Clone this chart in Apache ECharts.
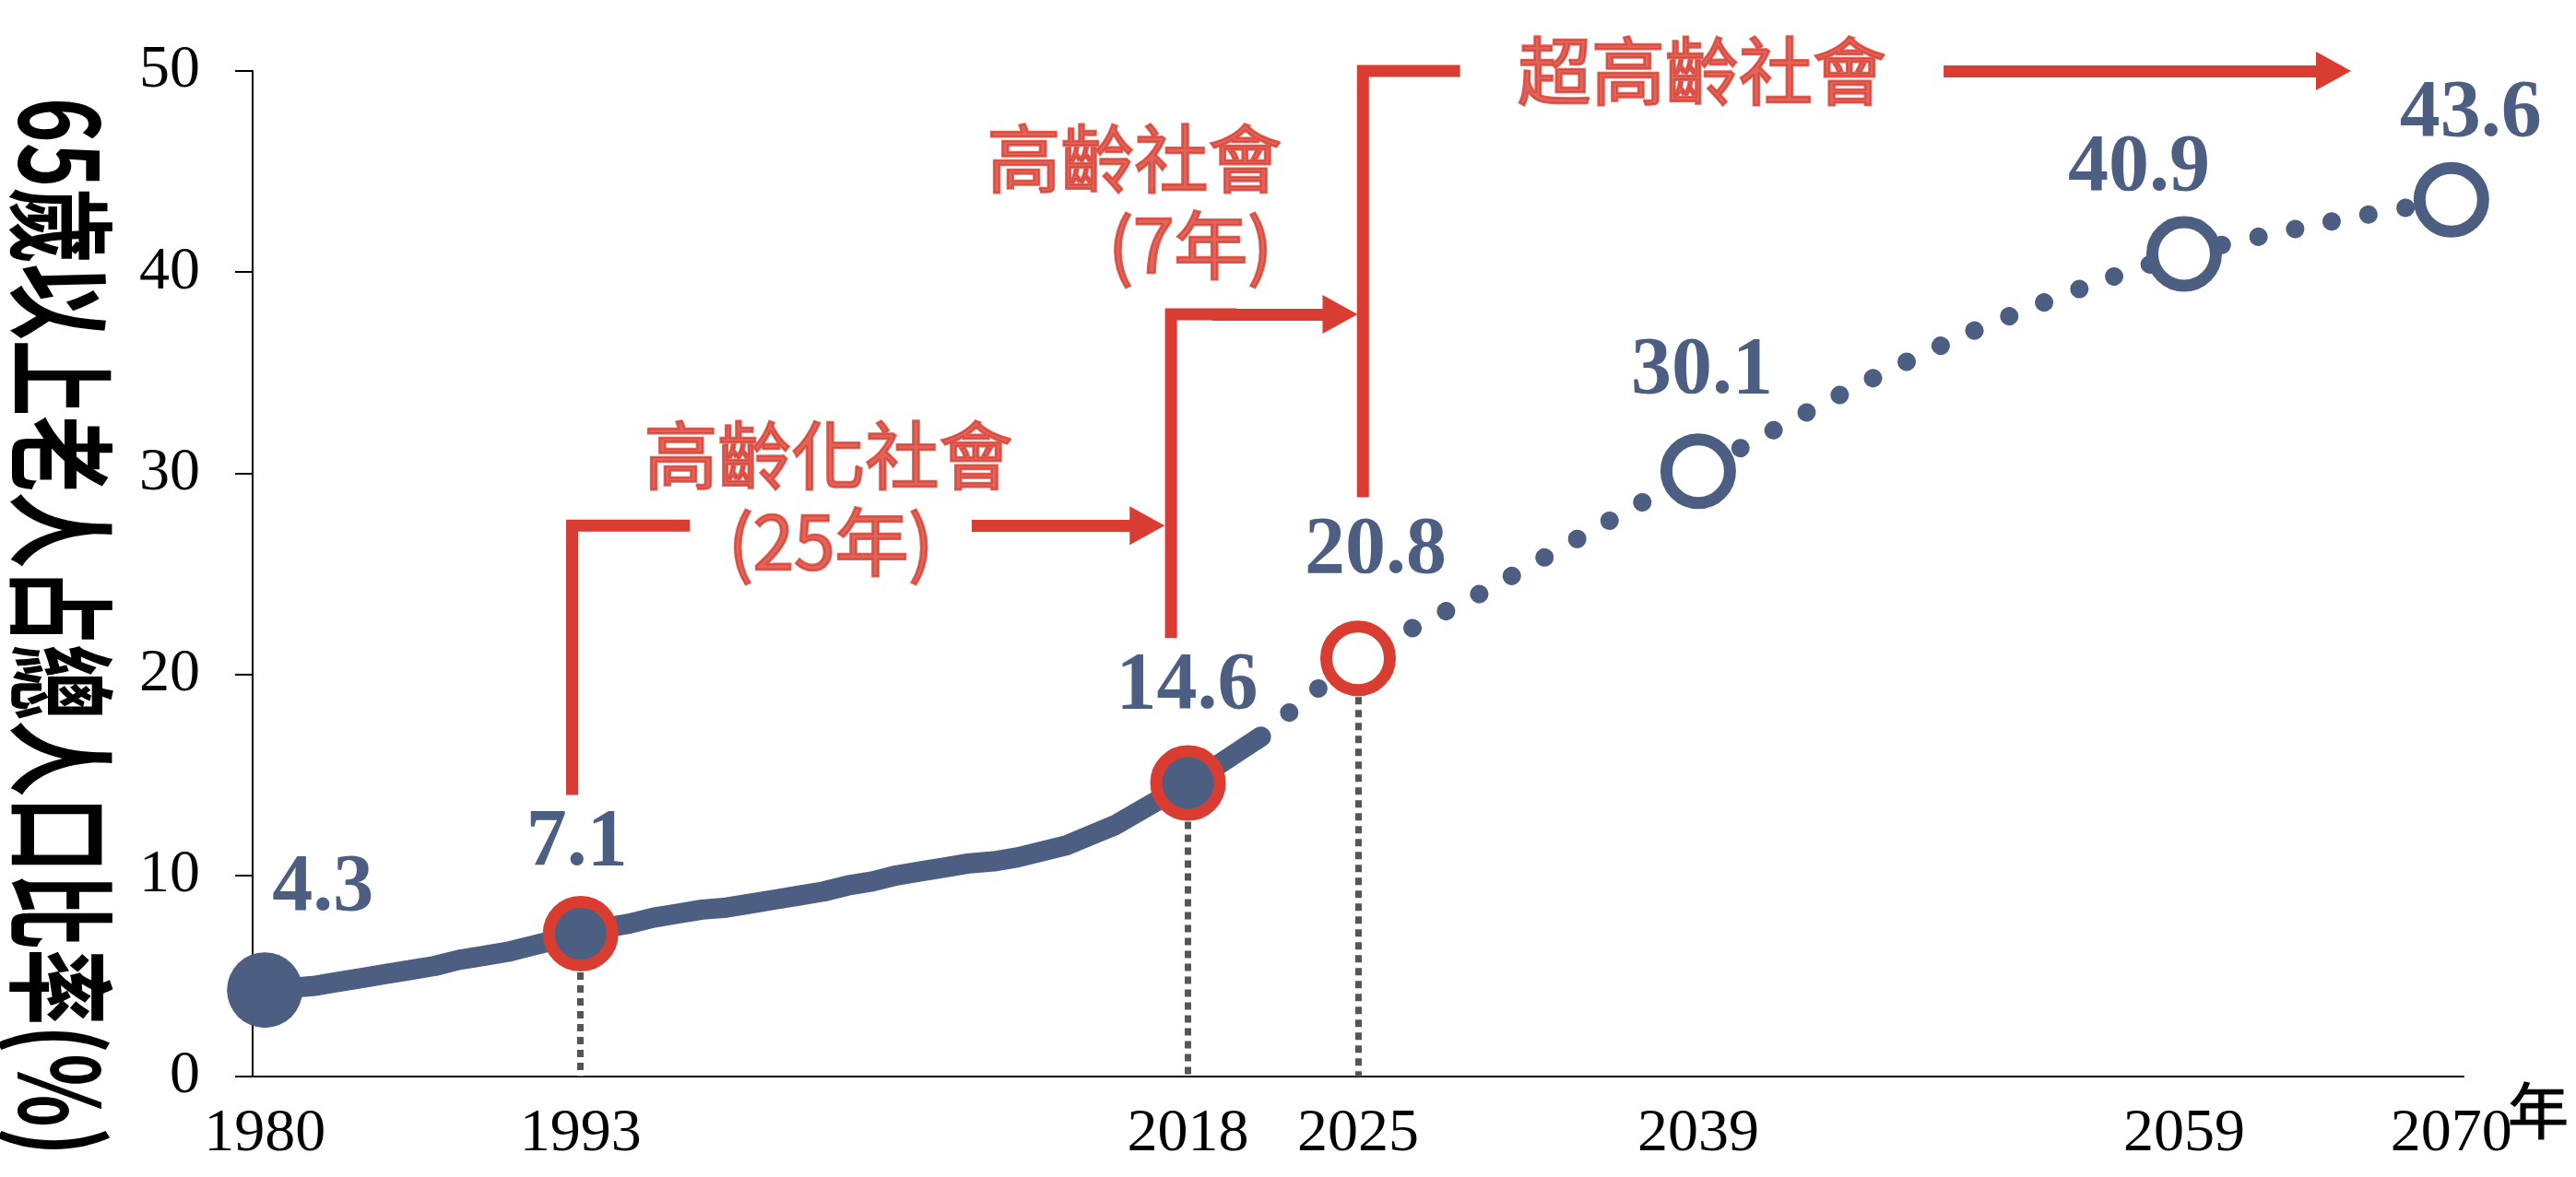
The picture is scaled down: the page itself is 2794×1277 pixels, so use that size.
<!DOCTYPE html>
<html><head><meta charset="utf-8">
<script src="https://cdn.jsdelivr.net/npm/echarts@6/dist/echarts.min.js"></script>
<style>html,body{margin:0;padding:0;background:#fff}#c{width:2794px;height:1277px}</style>
</head><body><div id="c"></div>
<script>
// ---------------- data ----------------
const yearsActual = [1980,1981,1982,1983,1984,1985,1986,1987,1988,1989,1990,1991,1992,1993,1994,1995,1996,1997,1998,1999,2000,2001,2002,2003,2004,2005,2006,2007,2008,2009,2010,2011,2012,2013,2014,2015,2016,2017,2018,2019,2020,2021];
const valuesActual = [4.3,4.4,4.5,4.7,4.9,5.1,5.3,5.5,5.8,6.0,6.2,6.5,6.8,7.1,7.4,7.6,7.9,8.1,8.3,8.4,8.6,8.8,9.0,9.2,9.5,9.7,10.0,10.2,10.4,10.6,10.7,10.9,11.2,11.5,12.0,12.5,13.2,13.9,14.6,15.3,16.1,16.9];
const yearsProjected = [2021,2025,2030,2035,2039,2045,2050,2055,2059,2065,2070];
const valuesProjected = [16.9,20.8,24.0,27.4,30.1,34.0,36.9,39.3,40.9,42.5,43.6];
const keyYears = [1980,1993,2018,2025,2039,2059,2070];
const keyValues = [4.3,7.1,14.6,20.8,30.1,40.9,43.6];
const xTickYears = [1980,1993,2018,2025,2039,2059,2070];
const dropYears = [1993,2018,2025];
const dropValues = [7.1,14.6,20.8];
const yAxisTitle = '65歲以上老人占總人口比率(%)';
const xAxisTitle = '年';
// stage annotations (data units: year, %)
const stageTexts = ['高齡化社會','(25年)','高齡社會','(7年)','超高齡社會'];
const stageTextYears = [2003.2,2003.3,2015.8,2018.1,2039.15];
const stageTextValues = [30.93,26.58,45.68,41.37,50.04];
const bracketX = [1992.65,2017.3,2025.2];
const bracketBottom = [14.0,21.8,28.8];
const bracketLevel = [27.4,37.9,50.0];
const bracketLineEnd = [1997.5,2020.0,2029.2];
const arrowStart = [2009.1,2019.0,2049.1];
const arrowEnd = [2016.32,2024.26,2065.15];

// ---------------- styles ----------------
const BLUE = '#4c5e82', RED = '#d93d31', GRAY = '#555555';
const markerStyles = [
  {size:82, fill:BLUE, border:null},
  {size:69, fill:BLUE, border:RED},
  {size:69, fill:BLUE, border:RED},
  {size:69, fill:'#fff', border:RED},
  {size:69, fill:'#fff', border:BLUE},
  {size:69, fill:'#fff', border:BLUE},
  {size:69, fill:'#fff', border:BLUE}
];
const labelOffsets = [[63,-110],[-4,-98],[-1,-104],[19,-116],[4,-108],[-49,-92],[21,-92]];

const chart = echarts.init(document.getElementById('c'), null, {renderer:'canvas'});

const series = [];
series.push({
  type:'line', z:3, clip:false, showSymbol:false, symbol:'none', silent:true,
  data: yearsActual.map((y,i)=>[y, valuesActual[i]]),
  lineStyle:{color:BLUE, width:22, cap:'round', join:'round'}
});
series.push({
  type:'line', z:3, clip:false, showSymbol:false, symbol:'none', silent:true, smooth:0.25,
  data: yearsProjected.map((y,i)=>[y, valuesProjected[i]]),
  lineStyle:{color:BLUE, width:20, cap:'round', type:[0.1,40.5]}
});
series.push({
  type:'line', z:2, clip:false, data:[], silent:true,
  markLine:{
    silent:true, symbol:'none', label:{show:false},
    lineStyle:{color:GRAY, width:7, type:[8,6]},
    data: dropYears.map((y,i)=>[{coord:[y, dropValues[i]]},{coord:[y, 0]}])
  }
});
bracketX.forEach((bx,i)=>{
  series.push({
    type:'line', z:4, clip:false, showSymbol:false, symbol:'none', silent:true,
    data:[[bx, bracketBottom[i]],[bx, bracketLevel[i]],[bracketLineEnd[i], bracketLevel[i]]],
    lineStyle:{color:RED, width:13, cap:'butt', join:'miter'}
  });
});
series.push({
  type:'line', z:4, clip:false, data:[], silent:true,
  markLine:{
    silent:true, symbol:['none','triangle'], symbolSize:[42,38], label:{show:false},
    lineStyle:{color:RED, width:13, type:'solid'},
    itemStyle:{color:RED},
    data: arrowStart.map((s,i)=>[{coord:[s, bracketLevel[i]]},{coord:[arrowEnd[i], bracketLevel[i]]}])
  }
});
series.push({
  type:'scatter', z:6, clip:false, silent:true, symbolSize:1,
  itemStyle:{color:'rgba(0,0,0,0)'},
  data: stageTexts.map((t,i)=>[stageTextYears[i], stageTextValues[i], t]),
  label:{show:true, position:'inside', formatter:p=>p.data[2],
    fontFamily:'"Noto Sans CJK TC"', fontWeight:'normal', fontSize:80, color:RED,
    textBorderColor:RED, textBorderWidth:2.6}
});
series.push({
  type:'scatter', z:8, clip:false, silent:true,
  data: keyYears.map((y,i)=>{
    const s = markerStyles[i];
    return {
      value:[y, keyValues[i]],
      symbol:'circle', symbolSize:s.size,
      itemStyle:{color:s.fill, borderColor:s.border || s.fill, borderWidth:s.border ? 13 : 0, opacity:1},
      label:{show:true, position:'inside', offset:labelOffsets[i], formatter:keyValues[i].toFixed(1),
        fontFamily:'"Liberation Serif","Times New Roman",serif', fontWeight:'bold', fontSize:88, color:BLUE}
    };
  })
});

chart.setOption({
  animation:false,
  backgroundColor:'#fff',
  grid:{left:274, right:122, top:77, bottom:109, containLabel:false},
  graphic:[{
    type:'text', x:66, y:680, rotation:-Math.PI/2, scaleX:0.70, silent:true,
    style:{text:yAxisTitle, align:'center', verticalAlign:'middle',
      font:'bold 118px "Noto Sans CJK TC"', fill:'#000'}
  },{
    type:'text', x:2753, y:1205, silent:true,
    style:{text:xAxisTitle, align:'center', verticalAlign:'middle',
      font:'66px "Noto Sans CJK TC"', fill:'#000', stroke:'#000', lineWidth:1.2}
  }],
  xAxis:{
    type:'value', min:1979.5, max:2070.5,
    axisLine:{show:true, lineStyle:{color:'#000', width:2}},
    axisTick:{show:false},
    splitLine:{show:false},
    axisLabel:{customValues:xTickYears, margin:30, formatter:v=>String(Math.round(v)),
      fontFamily:'"Liberation Serif","Times New Roman",serif', fontSize:66, color:'#000'}
  },
  yAxis:{
    type:'value', min:0, max:50, interval:10,
    axisLine:{show:true, lineStyle:{color:'#000', width:2}},
    axisTick:{show:true, inside:false, length:19, lineStyle:{color:'#000', width:2}},
    splitLine:{show:false},
    axisLabel:{margin:57, fontFamily:'"Liberation Serif","Times New Roman",serif', fontSize:66, color:'#000'}
  },
  series:series
});
</script></body></html>
